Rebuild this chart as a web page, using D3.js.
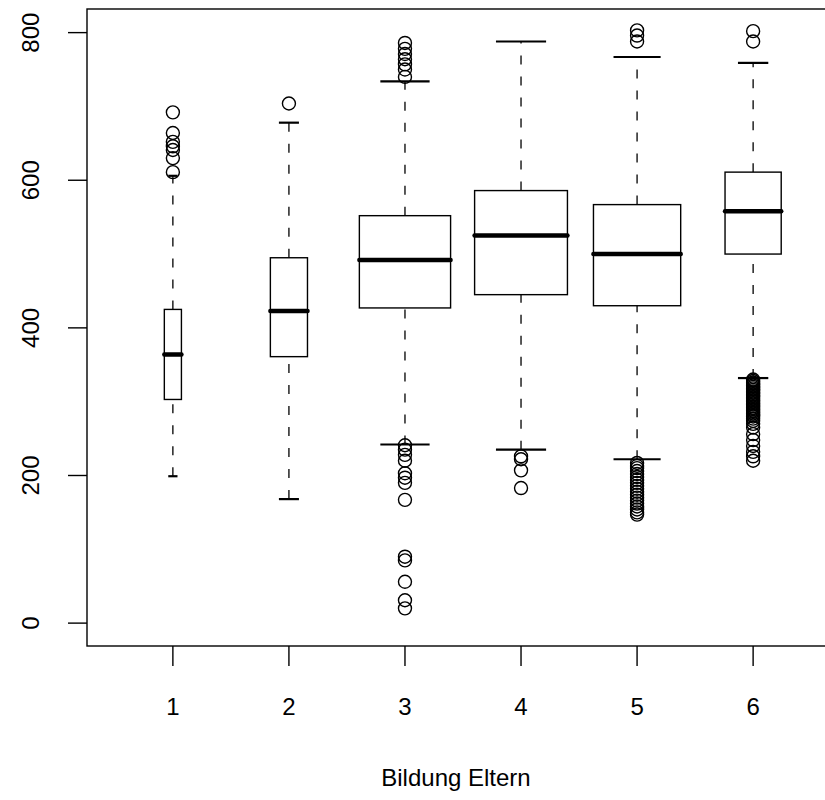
<!DOCTYPE html>
<html>
<head>
<meta charset="utf-8">
<script src="https://cdn.jsdelivr.net/npm/d3@7"></script>
<style>
  body { margin: 0; background: #fff; }
  svg { display: block; }
</style>
</head>
<body>
<svg id="main"></svg>
<script>
// --------data----------
const groups = ['1', '2', '3', '4', '5', '6'];
// group sizes (box widths follow sqrt(n), like varwidth=TRUE)
const counts = [59, 278, 1680, 1740, 1536, 637];
const lowWhisker = [199, 168, 242, 235, 222, 332];
const q1 = [303, 361, 427, 445, 430, 500];
const medians = [364, 423, 492, 525, 500, 558];
const q3 = [425, 495, 552, 586, 567, 611];
const highWhisker = [606, 678, 734, 788, 767, 759];
const outliers = [
  [692, 664, 652, 646, 641, 630, 611],
  [704],
  [786, 778, 771, 764, 757, 750, 740,
   241, 235, 228, 220, 203, 197, 190, 167, 90, 85, 56, 31, 20],
  [226, 222, 207, 183],
  [803, 796, 788,
   217, 213, 210, 206, 202, 198, 194, 190, 186, 182, 178, 174, 170, 166, 162, 158, 154, 150, 147],
  [802, 788,
   330, 328, 326, 324, 322, 320, 318, 316, 314, 312, 310, 308, 306, 304, 302, 300,
   298, 296, 294, 292, 290, 288, 286, 284, 282, 280, 277, 274, 270,
   265, 256, 248, 240, 232, 226, 220]
];
const yTicks = [0, 200, 400, 600, 800];
const xTitle = 'Bildung Eltern';

// --------code----------
const width = 825, height = 800;
const svg = d3.select('#main').attr('width', width).attr('height', height);

const plot = {left: 87, right: 839, top: 9, bottom: 646};

const sx = d3.scaleLinear().domain([0.26, 6.74]).range([plot.left, plot.right]);
const sy = d3.scaleLinear().domain([-31, 832]).range([plot.bottom, plot.top]);
const unit = sx(2) - sx(1);
const sw = d3.scaleSqrt().domain([0, d3.max(counts)]).range([0, 0.8 * unit]);

const font = '"Liberation Sans", Arial, Helvetica, sans-serif';
const fontSize = '24px';

const stats = groups.map((g, i) => ({
  g, i, x: i + 1, w: sw(counts[i]),
  lo: lowWhisker[i], q1: q1[i], med: medians[i], q3: q3[i], hi: highWhisker[i],
  out: outliers[i]
}));

const boxes = svg.selectAll('.box')
  .data(stats)
  .join('g')
  .attr('class', 'box');

// whiskers (dashed)
boxes.append('line')
  .attr('x1', d => sx(d.x)).attr('x2', d => sx(d.x))
  .attr('y1', d => sy(d.lo)).attr('y2', d => sy(d.q1))
  .attr('stroke', '#000').attr('stroke-width', 1.3)
  .attr('stroke-dasharray', '9,12');
boxes.append('line')
  .attr('x1', d => sx(d.x)).attr('x2', d => sx(d.x))
  .attr('y1', d => sy(d.q3)).attr('y2', d => sy(d.hi))
  .attr('stroke', '#000').attr('stroke-width', 1.3)
  .attr('stroke-dasharray', '9,12');

// staples
boxes.selectAll('.staple')
  .data(d => [d.lo, d.hi].map(v => ({v, d})))
  .join('line')
  .attr('class', 'staple')
  .attr('x1', e => sx(e.d.x) - e.d.w * 0.27)
  .attr('x2', e => sx(e.d.x) + e.d.w * 0.27)
  .attr('y1', e => sy(e.v)).attr('y2', e => sy(e.v))
  .attr('stroke', '#000').attr('stroke-width', 2.2);

// box
boxes.append('rect')
  .attr('x', d => sx(d.x) - d.w / 2)
  .attr('width', d => d.w)
  .attr('y', d => sy(d.q3))
  .attr('height', d => sy(d.q1) - sy(d.q3))
  .attr('fill', '#fff')
  .attr('stroke', '#000').attr('stroke-width', 1.4);

// median
boxes.append('line')
  .attr('x1', d => sx(d.x) - d.w / 2).attr('x2', d => sx(d.x) + d.w / 2)
  .attr('y1', d => sy(d.med)).attr('y2', d => sy(d.med))
  .attr('stroke', '#000').attr('stroke-width', 4.5)
  .attr('stroke-linecap', 'round');

// outliers
boxes.selectAll('.out')
  .data(d => d.out.map(v => ({v, x: d.x})))
  .join('circle')
  .attr('class', 'out')
  .attr('cx', e => sx(e.x))
  .attr('cy', e => sy(e.v))
  .attr('r', 6.5)
  .attr('fill', 'none')
  .attr('stroke', '#000').attr('stroke-width', 1.4);

// frame
svg.append('rect')
  .attr('x', plot.left).attr('y', plot.top)
  .attr('width', plot.right - plot.left)
  .attr('height', plot.bottom - plot.top)
  .attr('fill', 'none').attr('stroke', '#000').attr('stroke-width', 1.4);

// y axis
const gy = svg.append('g');
gy.selectAll('line')
  .data(yTicks)
  .join('line')
  .attr('x1', plot.left - 19).attr('x2', plot.left)
  .attr('y1', d => sy(d)).attr('y2', d => sy(d))
  .attr('stroke', '#000').attr('stroke-width', 1.4);
gy.selectAll('text')
  .data(yTicks)
  .join('text')
  .attr('transform', d => `translate(39,${sy(d)}) rotate(-90)`)
  .attr('text-anchor', 'middle')
  .style('font-family', font)
  .style('font-size', fontSize)
  .text(d => d);

// x axis
const gx = svg.append('g');
gx.selectAll('line')
  .data(stats)
  .join('line')
  .attr('x1', d => sx(d.x)).attr('x2', d => sx(d.x))
  .attr('y1', plot.bottom).attr('y2', plot.bottom + 20)
  .attr('stroke', '#000').attr('stroke-width', 1.4);
gx.selectAll('text')
  .data(stats)
  .join('text')
  .attr('x', d => sx(d.x)).attr('y', 715)
  .attr('text-anchor', 'middle')
  .style('font-family', font)
  .style('font-size', fontSize)
  .text(d => d.g);

svg.append('text')
  .attr('x', (plot.left + width) / 2).attr('y', 786)
  .attr('text-anchor', 'middle')
  .style('font-family', font)
  .style('font-size', fontSize)
  .text(xTitle);
</script>
</body>
</html>
